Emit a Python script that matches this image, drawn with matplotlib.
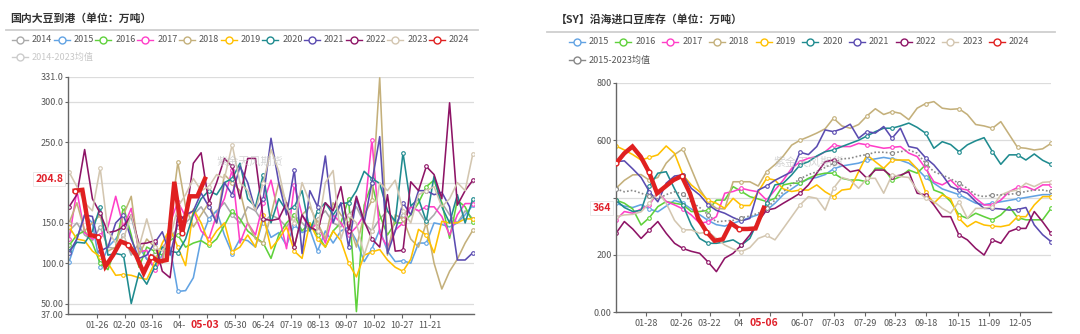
import datetime as dt
import numpy as np
import matplotlib
matplotlib.use("Agg")
import matplotlib.pyplot as plt
from matplotlib.lines import Line2D

plt.rcParams["font.family"] = ["Noto Sans CJK SC", "DejaVu Sans"]

# ---------------- 国内大豆到港（万吨），每周 ----------------
dg_2014 = [140, 150, 135, 128, 145, 120, 118, 135, 110, 125, 105, 112, 120, 130, 145, 150, 160, 170,
           155, 165, 175, 160, 150, 170, 165, 150, 160, 155, 145, 160, 150, 140, 155, 165, 150, 145,
           160, 170, 150, 140, 155, 165, 150, 160, 170, 165, 150, 160, 175, 160, 150, 165, 155]
dg_2015 = [102, 130, 160, 150, 95, 120, 130, 145, 158, 120, 105, 95, 110, 120, 65, 66, 82, 130,
           155, 165, 135, 112, 130, 128, 120, 155, 132, 138, 122, 148, 138, 142, 115, 140, 125, 140,
           145, 128, 102, 118, 142, 115, 102, 103, 100, 125, 125, 150, 148, 145, 150, 160, 172]
dg_2016 = [122, 135, 140, 125, 100, 92, 120, 170, 135, 95, 120, 115, 110, 128, 135, 120, 125, 128,
           122, 130, 147, 165, 155, 140, 132, 125, 106, 135, 150, 160, 140, 150, 135, 120, 140, 150,
           180, 40, 172, 199, 160, 135, 150, 150, 160, 175, 195, 203, 175, 131, 178, 170, 151]
dg_2017 = [130, 190, 138, 130, 135, 145, 183, 145, 168, 114, 116, 91, 105, 150, 176, 158, 165, 140,
           130, 160, 180, 216, 125, 150, 135, 175, 203, 160, 118, 197, 160, 141, 150, 125, 160, 150,
           135, 145, 160, 253, 137, 120, 141, 150, 170, 165, 170, 170, 158, 135, 160, 174, 174]
dg_2018 = [150, 175, 140, 150, 160, 115, 120, 160, 183, 110, 130, 120, 100, 150, 225, 170, 145, 160,
           175, 150, 210, 200, 190, 150, 130, 125, 160, 200, 175, 120, 160, 170, 150, 130, 175, 160,
           150, 120, 160, 178, 330, 110, 160, 155, 130, 120, 150, 100, 68, 90, 105, 125, 141]
dg_2019 = [145, 130, 128, 115, 108, 100, 85, 86, 85, 82, 80, 100, 125, 143, 120, 97, 167, 150,
           125, 140, 150, 114, 120, 135, 120, 160, 118, 130, 145, 115, 106, 150, 130, 120, 140, 128,
           100, 83, 110, 114, 117, 104, 95, 90, 105, 142, 135, 113, 152, 150, 150, 155, 155]
dg_2020 = [115, 126, 125, 140, 170, 110, 112, 110, 50, 88, 74, 95, 120, 115, 113, 130, 161, 180,
           190, 185, 200, 205, 224, 180, 170, 210, 150, 180, 165, 170, 190, 140, 165, 175, 160, 174,
           175, 190, 214, 205, 199, 165, 152, 237, 171, 180, 152, 208, 170, 150, 185, 150, 180]
dg_2021 = [113, 130, 160, 158, 115, 120, 150, 160, 130, 106, 110, 125, 139, 110, 150, 160, 165, 187,
           170, 150, 200, 185, 220, 200, 165, 180, 255, 200, 160, 216, 112, 190, 170, 233, 150, 175,
           120, 180, 150, 200, 257, 112, 140, 175, 160, 190, 190, 185, 188, 170, 104, 104, 113]
dg_2022 = [170, 185, 241, 180, 162, 138, 140, 145, 160, 124, 125, 128, 90, 82, 160, 155, 224, 237,
           175, 200, 230, 220, 180, 230, 230, 155, 153, 155, 175, 120, 160, 145, 140, 175, 165, 195,
           140, 183, 152, 130, 120, 185, 115, 116, 201, 190, 220, 210, 180, 299, 172, 190, 203]
dg_2023 = [213, 195, 175, 165, 218, 140, 125, 130, 160, 120, 155, 120, 115, 130, 170, 185, 205, 190,
           195, 210, 205, 247, 200, 190, 165, 200, 241, 214, 170, 150, 200, 175, 140, 200, 215, 130,
           160, 150, 110, 140, 200, 190, 203, 165, 150, 185, 190, 195, 170, 180, 200, 190, 236]
dg_2024 = [190, 191, 135, 133, 96, 110, 127, 123, 110, 88, 108, 102, 104, 201, 137, 183, 183, 204.8]

# tick dates; the label under the red date box is left blank, "04-" is what shows of 04-10
dg_ticks = ["01-26", "02-20", "03-16", "04-10", "05-05", "05-30", "06-24", "07-19",
            "08-13", "09-07", "10-02", "10-27", "11-21"]
dg_tick_text = ["01-26", "02-20", "03-16", "04-", "", "05-30", "06-24", "07-19",
                "08-13", "09-07", "10-02", "10-27", "11-21"]
dg_now = "05-03"

# ---------------- 沿海进口豆库存（万吨），每周 ----------------
kc_2015 = [380, 370, 365, 375, 360, 350, 370, 390, 380, 360, 340, 320, 305, 300, 310, 320, 330, 340,
           355, 380, 410, 430, 450, 465, 470, 480, 500, 510, 515, 520, 530, 535, 540, 535, 530, 520,
           500, 470, 450, 430, 420, 410, 395, 380, 375, 380, 385, 390, 395, 400, 405, 410, 410]
kc_2016 = [391, 380, 360, 304, 330, 368, 386, 380, 375, 351, 351, 355, 391, 391, 438, 421, 403, 395,
           386, 397, 444, 450, 450, 467, 479, 485, 485, 467, 461, 461, 455, 502, 502, 461, 473, 496,
           485, 514, 426, 415, 386, 339, 327, 345, 333, 322, 339, 368, 330, 322, 322, 322, 362]
kc_2017 = [322, 351, 345, 360, 374, 420, 386, 374, 360, 339, 310, 315, 333, 415, 421, 432, 425, 420,
           391, 426, 461, 502, 525, 537, 543, 560, 584, 578, 578, 589, 584, 578, 572, 575, 578, 555,
           543, 502, 455, 444, 461, 432, 426, 397, 374, 374, 391, 420, 435, 438, 426, 444, 444]
kc_2018 = [432, 460, 479, 480, 460, 470, 520, 550, 570, 500, 430, 385, 362, 360, 455, 455, 455, 440,
           490, 515, 545, 583, 600, 612, 625, 640, 677, 650, 642, 655, 685, 710, 690, 700, 694, 672,
           712, 728, 735, 712, 708, 710, 690, 655, 650, 642, 665, 620, 575, 572, 566, 570, 589]
kc_2019 = [580, 566, 550, 531, 540, 549, 580, 554, 479, 444, 420, 390, 380, 362, 397, 372, 372, 420,
           467, 461, 430, 421, 426, 426, 444, 420, 403, 426, 430, 490, 549, 525, 502, 531, 531, 531,
           500, 420, 380, 409, 395, 327, 298, 316, 304, 300, 298, 304, 333, 333, 374, 403, 403]
kc_2020 = [391, 365, 351, 355, 440, 485, 490, 430, 374, 304, 257, 240, 240, 245, 252, 234, 257, 320,
           380, 444, 450, 479, 514, 525, 545, 560, 566, 578, 589, 600, 615, 630, 642, 642, 650, 660,
           645, 625, 572, 595, 585, 560, 584, 598, 609, 560, 516, 549, 549, 531, 552, 530, 516]
kc_2021 = [525, 528, 500, 470, 420, 385, 450, 475, 479, 432, 409, 375, 355, 345, 330, 318, 327, 426,
           440, 460, 475, 490, 558, 550, 578, 636, 630, 640, 656, 607, 630, 625, 648, 607, 642, 578,
           572, 539, 514, 479, 438, 426, 415, 386, 362, 362, 360, 356, 358, 365, 304, 270, 246]
kc_2022 = [275, 316, 290, 257, 287, 316, 275, 240, 222, 212, 205, 175, 141, 188, 205, 234, 269, 316,
           356, 362, 380, 397, 415, 444, 485, 525, 531, 514, 490, 496, 467, 496, 496, 473, 478, 490,
           415, 409, 374, 333, 333, 269, 252, 222, 199, 252, 240, 281, 292, 292, 351, 315, 275]
kc_2023 = [333, 339, 341, 350, 380, 420, 380, 320, 287, 287, 275, 280, 257, 234, 220, 211, 225, 257,
           268, 252, 292, 333, 374, 403, 397, 356, 432, 470, 461, 432, 467, 467, 415, 479, 473, 470,
           426, 397, 386, 362, 345, 386, 327, 362, 362, 368, 409, 421, 426, 450, 438, 453, 455]
kc_avg = [430, 420, 425, 415, 405, 395, 410, 420, 412, 385, 365, 340, 315, 318, 320, 330, 335, 345,
          362, 391, 420, 445, 465, 480, 490, 505, 520, 535, 537, 545, 550, 558, 558, 555, 560, 566,
          555, 520, 490, 479, 465, 450, 432, 409, 403, 409, 409, 411, 415, 421, 426, 426, 421]
kc_2024 = [519, 554, 578, 543, 490, 415, 438, 461, 475, 415, 327, 281, 249, 254, 310, 290, 290, 292, 364]

kc_ticks = ["01-28", "02-26", "03-22", "04-15", "05-11", "06-07", "07-03", "07-29",
            "08-23", "09-18", "10-15", "11-09", "12-05"]
kc_tick_text = ["01-28", "02-26", "03-22", "04", "", "06-07", "07-03", "07-29",
                "08-23", "09-18", "10-15", "11-09", "12-05"]
kc_now = "05-06"

COLORS = {
    "2014": "#aaaaaa", "2015": "#62a3e3", "2016": "#5fd13b", "2017": "#ff3fc8",
    "2018": "#c4b07b", "2019": "#ffc000", "2020": "#1f8b8f", "2021": "#5a4bb0",
    "2022": "#8e1466", "2023": "#d3c6b0", "2024": "#e02020",
}
AVG_C = "#888888"
RED = "#e0202a"
W, H = 1080, 334


def doy(md):
    m, d = md.split("-")
    return dt.date(2023, int(m), int(d)).timetuple().tm_yday - 1


def tick_marks(xs, ticks):
    idx = {0, len(xs) - 1}
    for t in ticks:
        d = doy(t)
        if d <= xs[-1] + 3:
            idx.add(int(np.argmin(np.abs(np.asarray(xs) - d))))
    return sorted(idx)


def draw_panel(ax, xs, series, xs_now, now_vals, ticks, tick_text, now_lab,
               ylim, yticks, ylabels, avg=None):
    for lab, vals in series:
        ax.plot(xs, vals, color=COLORS[lab], lw=1.15, zorder=2,
                marker="o", ms=2.6, mfc="white", mec=COLORS[lab], mew=0.8,
                markevery=tick_marks(xs, ticks))
    if avg is not None:
        ax.plot(xs, avg, color=AVG_C, lw=1.2, ls=(0, (1, 1.3)), zorder=3,
                marker="o", ms=2.8, mfc="white", mec=AVG_C, mew=0.8,
                markevery=tick_marks(xs, ticks))
    ax.plot(xs_now, now_vals, color=COLORS["2024"], lw=3.2, zorder=4,
            marker="o", ms=3.4, mfc="white", mec=COLORS["2024"], mew=1.0,
            markevery=tick_marks(xs_now, ticks)[:-1], solid_joinstyle="miter")

    ax.set_ylim(*ylim)
    ax.set_yticks(yticks)
    ax.set_yticklabels(ylabels)
    ax.set_xticks([doy(t) for t in ticks])
    ax.set_xticklabels(tick_text)
    ax.grid(axis="y", color="#dcdcdc", lw=0.9)
    ax.set_axisbelow(True)
    for s in ["top", "right"]:
        ax.spines[s].set_visible(False)
    for s in ["left", "bottom"]:
        ax.spines[s].set_color("#666666")
        ax.spines[s].set_linewidth(1.0)
    ax.tick_params(axis="y", length=2.2, pad=0.8, labelsize=6.5, colors="#666666", labelcolor="#555555")
    ax.tick_params(axis="x", length=3, pad=2.2, labelsize=6.5, colors="#666666", labelcolor="#555555")

    # current value / current date labels
    v = now_vals[-1]
    ax.text(-0.012, v, f"{v:g}", transform=ax.get_yaxis_transform(), ha="right", va="center",
            color=RED, fontsize=7.5, fontweight="bold", zorder=10, clip_on=False,
            bbox=dict(boxstyle="square,pad=0.2", fc="white", ec="#e6e6e6", lw=0.6))
    ax.annotate(now_lab, xy=(doy(now_lab), 0), xycoords=("data", "axes fraction"),
                xytext=(0, -8), textcoords="offset points", ha="center", va="center",
                color=RED, fontsize=7.5, fontweight="bold", zorder=10, annotation_clip=False)


def legend_item(fig, x, y, color, label, text_color="#555555", ls="-"):
    fig.add_artist(Line2D([(x - 8) / W, (x + 8) / W], [1 - y / H, 1 - y / H],
                          color=color, lw=1.0, ls=ls))
    fig.add_artist(Line2D([x / W], [1 - y / H], marker="o", ms=5, mfc="white",
                          mec=color, mew=1.0, lw=0))
    fig.text((x + 12) / W, 1 - y / H, label, color=text_color, fontsize=6.5,
             ha="left", va="center")


fig = plt.figure(figsize=(W / 100, H / 100), dpi=100)

# ---- left panel ----
ax1 = fig.add_axes([68 / W, 1 - 314 / H, 406 / W, 237 / H])
dg_years = ["2014", "2015", "2016", "2017", "2018", "2019", "2020", "2021", "2022", "2023"]
dg_series = list(zip(dg_years, [dg_2014, dg_2015, dg_2016, dg_2017, dg_2018,
                                dg_2019, dg_2020, dg_2021, dg_2022, dg_2023]))
xs_dg = np.linspace(0, 362.5, len(dg_2014))
xs_dg_now = np.linspace(5, doy(dg_now), len(dg_2024))
draw_panel(ax1, xs_dg, dg_series, xs_dg_now, dg_2024, dg_ticks, dg_tick_text, dg_now,
           (37, 331), [37, 50, 100, 150, 200, 250, 300, 331],
           ["37.00", "50.00", "100.0", "150.0", "", "250.0", "300.0", "331.0"])
ax1.set_xlim(-1, 363.5)

# ---- right panel ----
ax2 = fig.add_axes([616 / W, 1 - 312 / H, 435 / W, 229 / H])
kc_years = ["2015", "2016", "2017", "2018", "2019", "2020", "2021", "2022", "2023"]
kc_series = list(zip(kc_years, [kc_2015, kc_2016, kc_2017, kc_2018, kc_2019,
                                kc_2020, kc_2021, kc_2022, kc_2023]))
xs_kc = np.linspace(2, 364, len(kc_2015))
xs_kc_now = np.linspace(2, doy(kc_now), len(kc_2024))
draw_panel(ax2, xs_kc, kc_series, xs_kc_now, kc_2024, kc_ticks, kc_tick_text, kc_now,
           (0, 800), [0, 200, 400, 600, 800], ["0.00", "200", "", "600", "800"], avg=kc_avg)
ax2.set_xlim(2, 364)

# ---- titles, separators, watermarks ----
fig.text(10 / W, 1 - 18.5 / H, "国内大豆到港（单位：万吨）", fontsize=7.8, fontweight="bold",
         color="#333333", ha="left", va="center")
fig.text(556 / W, 1 - 19 / H, "【SY】沿海进口豆库存（单位：万吨）", fontsize=7.8, fontweight="bold",
         color="#333333", ha="left", va="center")
fig.add_artist(Line2D([6 / W, 478 / W], [1 - 30 / H, 1 - 30 / H], color="#cfcfcf", lw=1.3))
fig.add_artist(Line2D([547 / W, 1055 / W], [1 - 32 / H, 1 - 32 / H], color="#cfcfcf", lw=1.3))
fig.text(250 / W, 1 - 162 / H, "紫金天风期货", fontsize=8, color="#bbbbbb", alpha=0.6,
         ha="center", va="center", zorder=0)
fig.text(809 / W, 1 - 162 / H, "紫金天风期货", fontsize=8.5, color="#bbbbbb", alpha=0.6,
         ha="center", va="center", zorder=0)

# ---- legends ----
for k, yr in enumerate(dg_years + ["2024"]):
    legend_item(fig, 20 + 41.7 * k, 39.5, COLORS[yr], yr)
legend_item(fig, 20, 57, "#cccccc", "2014-2023均值", text_color="#c8c8c8")

for k, yr in enumerate(kc_years + ["2024"]):
    legend_item(fig, 576.7 + 46.7 * k, 42, COLORS[yr], yr)
legend_item(fig, 576.7, 60, AVG_C, "2015-2023均值")

fig.savefig("out.png", dpi=100)
plt.close(fig)
